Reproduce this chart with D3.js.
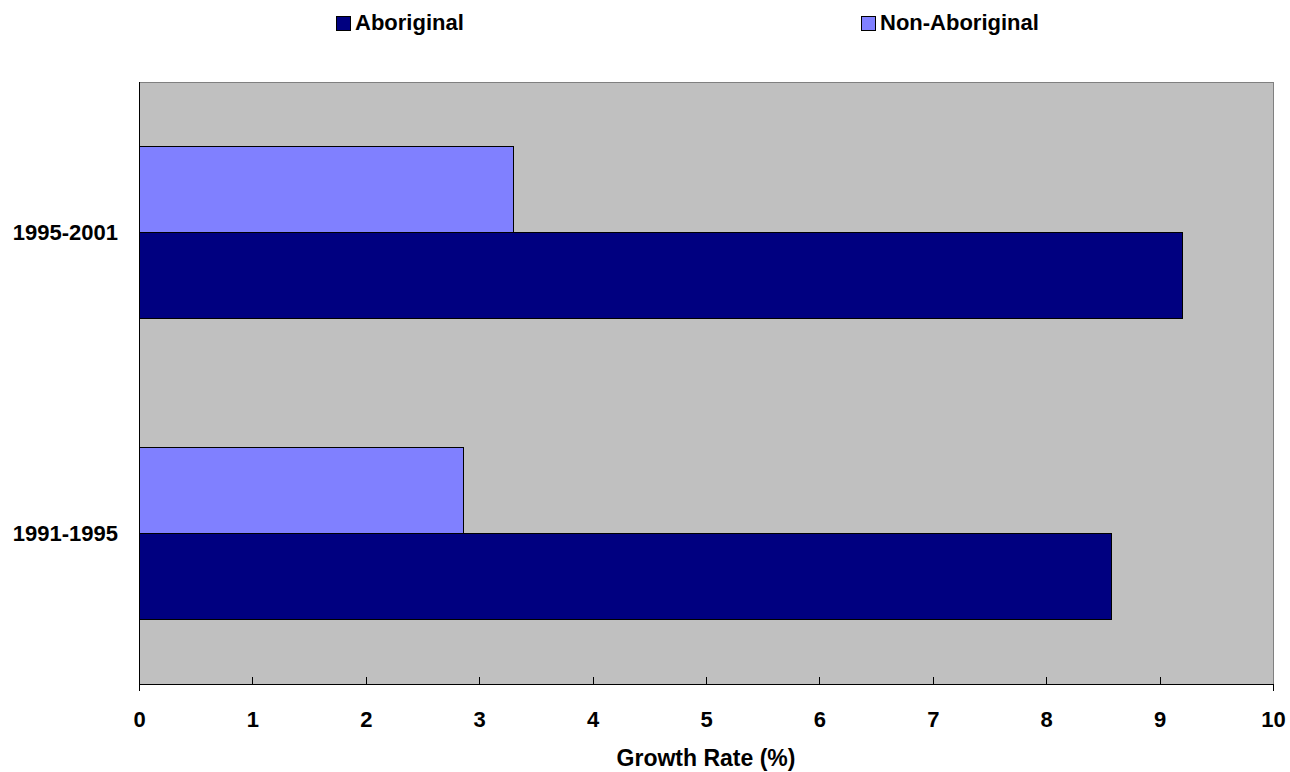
<!DOCTYPE html>
<html>
<head>
<meta charset="utf-8">
<script src="https://cdn.jsdelivr.net/npm/d3@7"></script>
<style>
  html, body { margin: 0; padding: 0; background: #fff; }
  svg { display: block; font-family: "Liberation Sans", Arial, sans-serif; font-weight: bold; }
</style>
</head>
<body>
<svg id="chart" width="1290" height="772"></svg>
<script>
const categories = ["1991-1995", "1995-2001"];
const seriesNames = ["Aboriginal", "Non-Aboriginal"];
const aboriginal = [8.58, 9.20];
const nonAboriginal = [2.86, 3.30];
const xTicks = [0, 1, 2, 3, 4, 5, 6, 7, 8, 9, 10];
const xTitle = "Growth Rate (%)";

const colors = { "Aboriginal": "#000080", "Non-Aboriginal": "#8080FF" };
const values = { "Aboriginal": aboriginal, "Non-Aboriginal": nonAboriginal };

const svg = d3.select("#chart");
const L = 139, R = 1273, T = 82, B = 684;

const x = d3.scaleLinear().domain([0, 10]).range([L, R]);
const y = d3.scaleBand().domain(categories).range([B, T]).paddingInner(0).paddingOuter(0);
const ySub = d3.scaleBand().domain(["Non-Aboriginal", "Aboriginal"])
  .range([0, y.bandwidth()]).paddingInner(0).paddingOuter(0.75);

// plot background
svg.append("rect").attr("x", L).attr("y", T).attr("width", R - L).attr("height", B - T)
  .attr("fill", "#C0C0C0").attr("stroke", "#808080").attr("stroke-width", 1)
  .attr("shape-rendering", "crispEdges");

// bars
const data = [];
categories.forEach((c, i) => {
  seriesNames.forEach(s => data.push({ cat: c, series: s, value: values[s][i] }));
});
svg.append("g").selectAll("rect").data(data).join("rect")
  .attr("x", x(0))
  .attr("y", d => y(d.cat) + ySub(d.series))
  .attr("width", d => x(d.value) - x(0))
  .attr("height", ySub.bandwidth())
  .attr("fill", d => colors[d.series])
  .attr("stroke", "#000").attr("stroke-width", 1)
  .attr("shape-rendering", "crispEdges");

// x axis
const xAxis = d3.axisBottom(x).tickValues(xTicks).tickSize(0).tickPadding(0).tickFormat(d3.format("d"));
const gx = svg.append("g").attr("transform", `translate(0,${B})`).call(xAxis);
gx.select(".domain").remove();
gx.selectAll(".tick text").attr("y", 43).attr("dy", 0)
  .attr("font-size", 22).attr("font-weight", "bold").attr("fill", "#000")
  .attr("font-family", "'Liberation Sans', Arial, sans-serif");
gx.selectAll(".tick line")
  .attr("y1", d => (d === 0 || d === 10) ? 7 : -7).attr("y2", 0)
  .attr("stroke", "#000").attr("shape-rendering", "crispEdges");

// axis lines
svg.append("line").attr("x1", L).attr("x2", R).attr("y1", B).attr("y2", B)
  .attr("stroke", "#000").attr("shape-rendering", "crispEdges");
svg.append("line").attr("x1", L).attr("x2", L).attr("y1", T).attr("y2", B)
  .attr("stroke", "#000").attr("shape-rendering", "crispEdges");

// y axis labels
const yAxis = d3.axisLeft(y).tickSize(0).tickPadding(21);
const gy = svg.append("g").attr("transform", `translate(${L},0)`).call(yAxis);
gy.select(".domain").remove();
gy.selectAll(".tick text")
  .attr("font-size", 22).attr("font-weight", "bold").attr("fill", "#000")
  .attr("font-family", "'Liberation Sans', Arial, sans-serif");

// x title
svg.append("text").attr("x", (L + R) / 2).attr("y", 766).attr("text-anchor", "middle")
  .attr("font-size", 23).text(xTitle);

// legend
const legendPos = { "Aboriginal": 336, "Non-Aboriginal": 861 };
const lg = svg.append("g");
seriesNames.forEach(s => {
  lg.append("rect").attr("x", legendPos[s]).attr("y", 16).attr("width", 14).attr("height", 14)
    .attr("fill", colors[s]).attr("stroke", "#000").attr("stroke-width", 1)
    .attr("shape-rendering", "crispEdges");
  lg.append("text").attr("x", legendPos[s] + 19).attr("y", 30).attr("font-size", 22).text(s);
});
</script>
</body>
</html>
